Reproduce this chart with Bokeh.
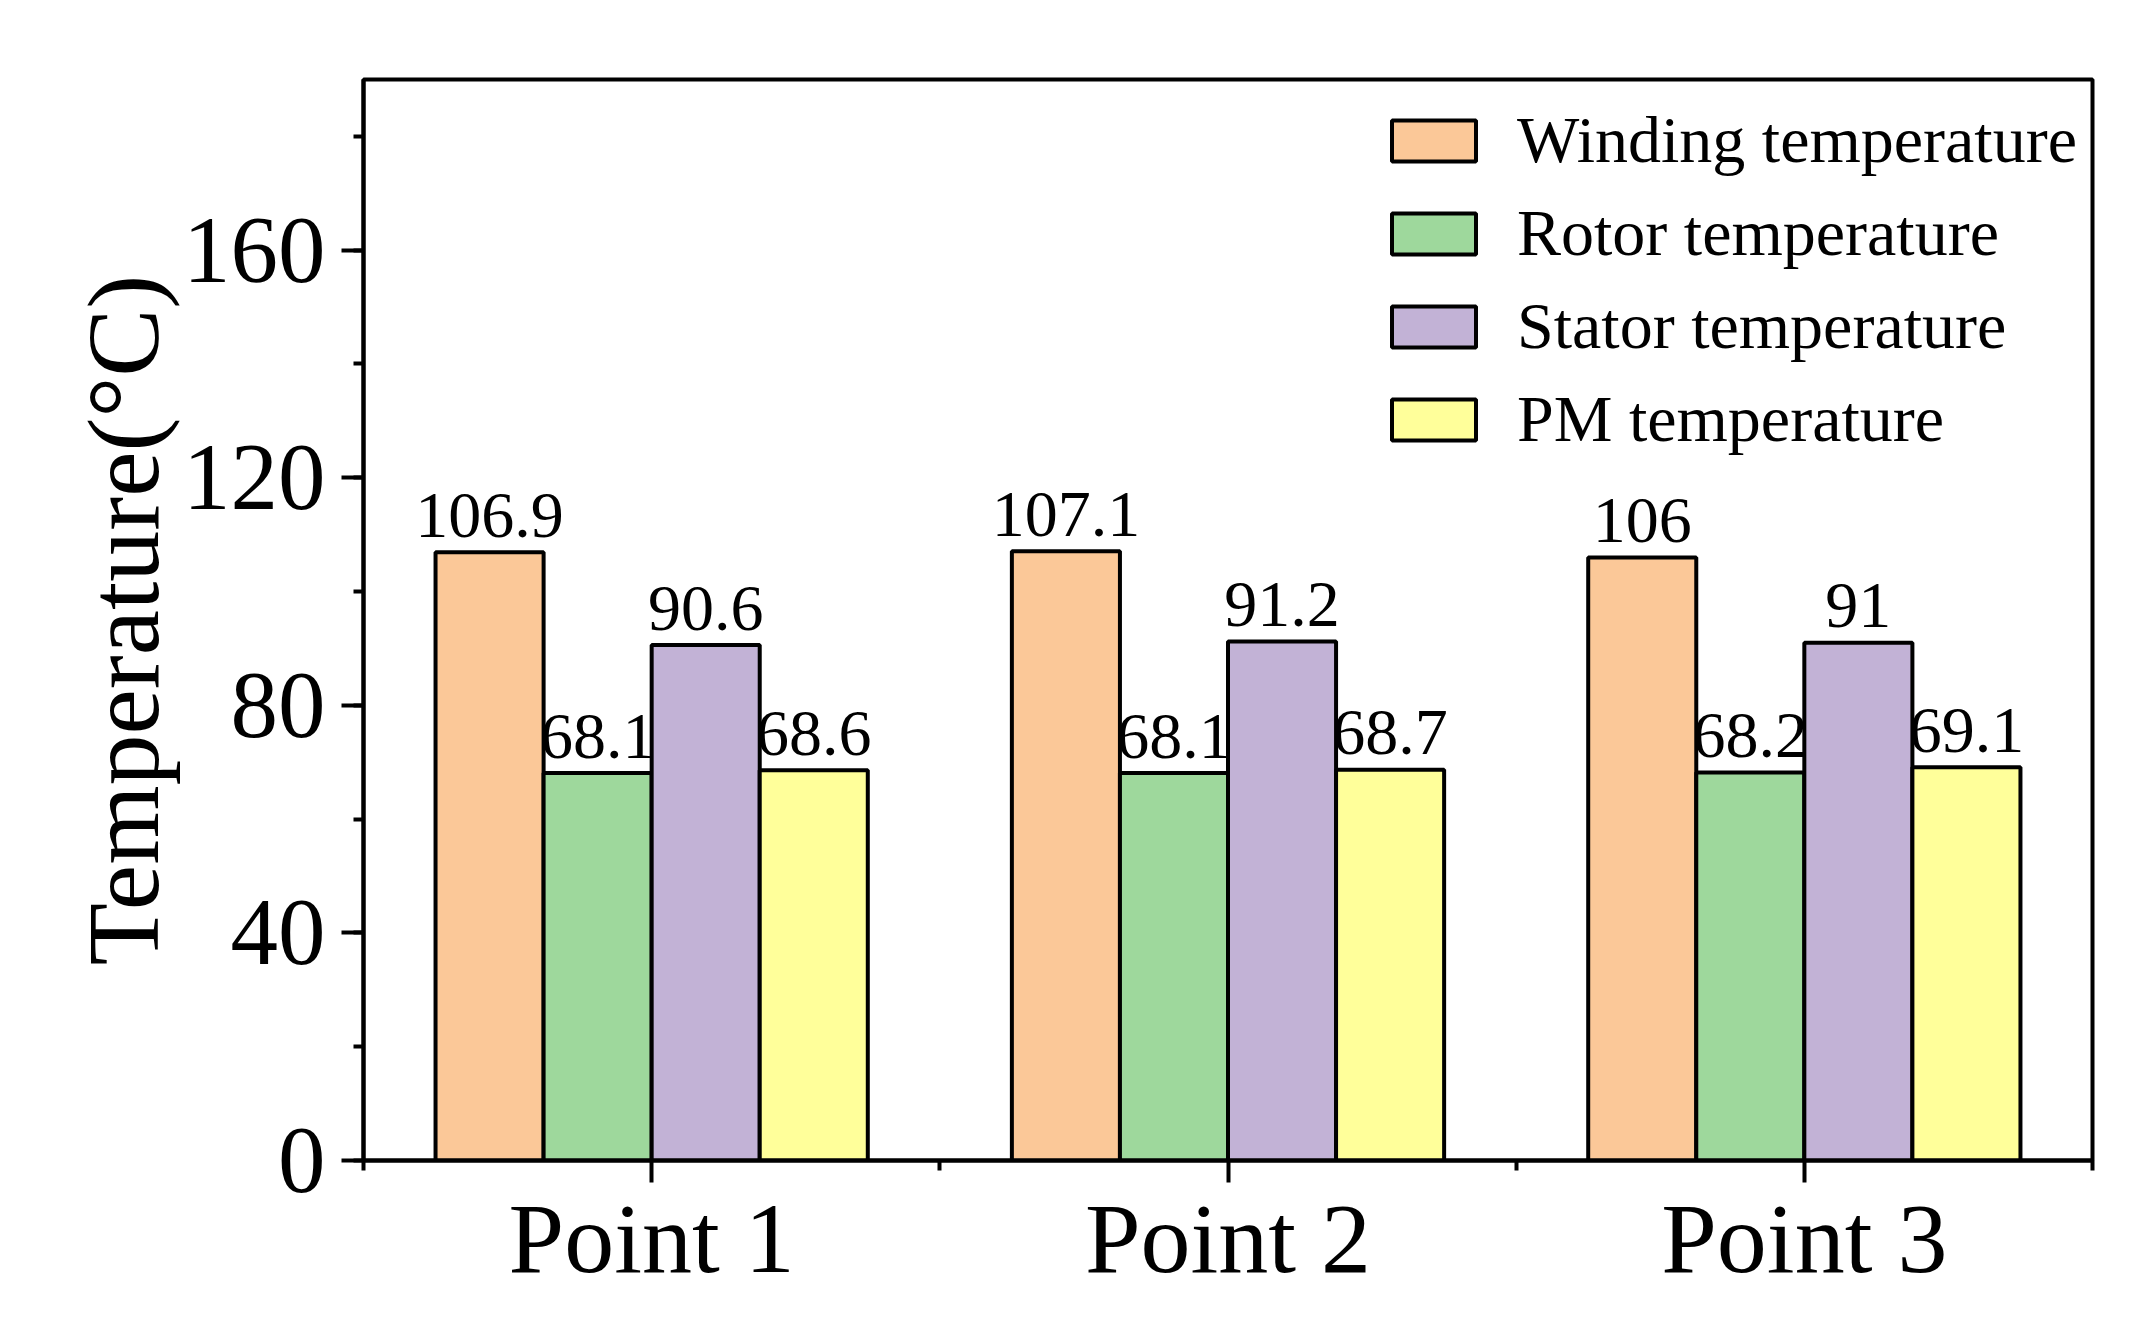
from bokeh.plotting import figure
from bokeh.models import Range1d, FixedTicker, SingleIntervalTicker, Legend, LegendItem, ColumnDataSource
from bokeh.core.properties import value
from bokeh.embed import file_html
from bokeh.resources import INLINE

categories = ["Point 1", "Point 2", "Point 3"]
series_names = ["Winding temperature", "Rotor temperature", "Stator temperature", "PM temperature"]
winding = [106.9, 107.1, 106.0]
rotor = [68.1, 68.1, 68.2]
stator = [90.6, 91.2, 91.0]
pm = [68.6, 68.7, 69.1]
labels = [["106.9", "107.1", "106"], ["68.1", "68.1", "68.2"], ["90.6", "91.2", "91"], ["68.6", "68.7", "69.1"]]
colors = ["#FBC898", "#9ED89C", "#C2B2D6", "#FFFF9A"]
y_ticks_interval = 40

FONT = "Liberation Serif"

p = figure(width=2133, height=1307, output_backend="svg", toolbar_location=None,
           x_range=Range1d(0, 3), y_range=Range1d(0, 190),
           min_border_left=363, min_border_top=79, min_border_right=41, min_border_bottom=147)
p.grid.visible = False
p.outline_line_color = "black"
p.outline_line_width = 4
p.background_fill_color = "white"

bar_w = 0.1875
series = [winding, rotor, stator, pm]
items = []
for j, vals in enumerate(series):
    off = (j - 1.5) * bar_w
    xs = [i + 0.5 + off for i in range(len(categories))]
    src = ColumnDataSource(dict(x=xs, top=vals, lab=labels[j]))
    r = p.vbar(x="x", top="top", bottom=0, width=bar_w, source=src,
               fill_color=colors[j], line_color="black", line_width=4)
    p.text(x="x", y="top", text="lab", source=src, text_align="center",
           text_baseline="alphabetic", y_offset=-37, text_font=value(FONT),
           text_font_size="66px", text_color="black")
    items.append(LegendItem(label=series_names[j], renderers=[r]))

legend = Legend(items=items, location=(1018, 703), orientation="vertical",
                glyph_width=105, glyph_height=51, label_standoff=31, spacing=17,
                padding=0, margin=0, border_line_color=None, background_fill_alpha=0,
                label_text_font=FONT, label_text_font_size="66px", label_text_color="black")
p.add_layout(legend, "center")

xa = p.xaxis[0]
xa.ticker = FixedTicker(ticks=[0.5, 1.5, 2.5], minor_ticks=[0, 1, 2, 3])
xa.major_label_overrides = {0.5: categories[0], 1.5: categories[1], 2.5: categories[2]}
xa.major_label_text_font = FONT
xa.major_label_text_font_size = "100px"
xa.major_label_text_color = "black"
xa.major_label_standoff = 0
xa.axis_line_width = 4
xa.major_tick_line_width = 4
xa.minor_tick_line_width = 4
xa.major_tick_in = 0
xa.major_tick_out = 22
xa.minor_tick_in = 0
xa.minor_tick_out = 10

ya = p.yaxis[0]
ya.ticker = SingleIntervalTicker(interval=y_ticks_interval, num_minor_ticks=2)
ya.axis_label = "Temperature(°C)"
ya.axis_label_text_font = FONT
ya.axis_label_text_font_size = "102px"
ya.axis_label_text_font_style = "normal"
ya.axis_label_text_color = "black"
ya.axis_label_standoff = 0
ya.major_label_text_font = FONT
ya.major_label_text_font_size = "95px"
ya.major_label_text_color = "black"
ya.major_label_standoff = 16
ya.axis_line_width = 4
ya.major_tick_line_width = 4
ya.minor_tick_line_width = 4
ya.major_tick_in = 0
ya.major_tick_out = 22
ya.minor_tick_in = 0
ya.minor_tick_out = 10

open("out.html", "w").write(file_html(p, INLINE))
